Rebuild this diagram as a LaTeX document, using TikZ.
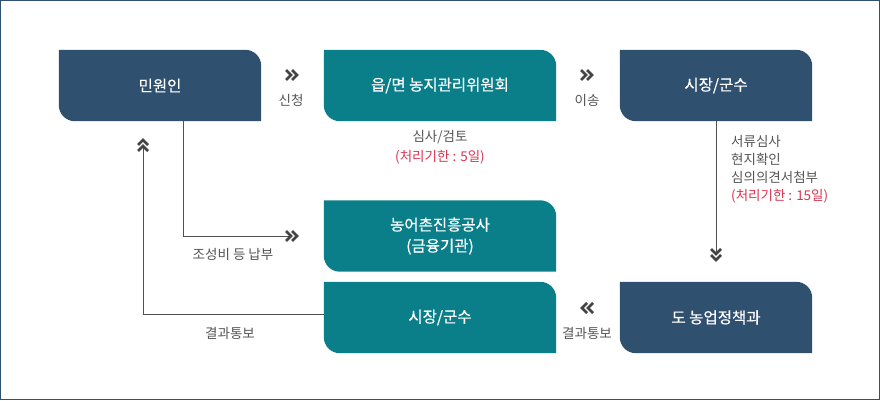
\documentclass[tikz,border=0pt]{standalone}
\usepackage{fontspec}
\setmainfont{Noto Sans CJK KR}
\newfontfamily\boxfont[FakeBold=0.6]{Noto Sans CJK KR}
\usetikzlibrary{backgrounds}
\definecolor{boxblue}{HTML}{305070}
\definecolor{boxteal}{HTML}{0A7F8A}
\definecolor{labgray}{HTML}{555555}
\definecolor{labred}{HTML}{DB3451}
\definecolor{linegray}{HTML}{505050}
\definecolor{chevgray}{HTML}{444444}
\newcommand\shapebox[2]{%
  \fill[#2] (#1.north west) -- ([xshift=-16pt]#1.north east)
    arc[start angle=90,end angle=0,radius=16pt] -- (#1.south east)
    -- ([xshift=16pt]#1.south west)
    arc[start angle=270,end angle=180,radius=16pt] -- cycle;}
\tikzset{
  box/.style={minimum height=71pt, inner sep=0pt, text=white,
    font=\boxfont\fontsize{15.5}{21}\selectfont, align=center},
  lab/.style={text=labgray, font=\fontsize{13.5}{18}\selectfont, inner sep=0pt},
  redlab/.style={text=labred, font=\fontsize{13.5}{18}\selectfont, inner sep=0pt},
  conn/.style={draw=linegray, line width=1pt},
  chevline/.style={draw=chevgray, line width=2.6pt, miter limit=10},
  dchev/.pic={
    \draw[chevline] (-6,5) -- (-1,0) -- (-6,-5);
    \draw[chevline] (0,5) -- (5,0) -- (0,-5);
  }
}
\begin{document}
\begin{tikzpicture}[x=1pt,y=1pt]
\useasboundingbox (0,0) rectangle (880,400);
\draw[boxblue, line width=1pt] (0.5,0.5) rectangle (879.5,399.5);

\node[box, minimum width=202pt] (n1) at (160,314.5) {민원인};
\node[box, minimum width=232pt] (n2) at (440,314.5) {읍/면 농지관리위원회};
\node[box, minimum width=192pt] (n3) at (716,314.5) {시장/군수};
\node[box, minimum width=232pt] (n4) at (440,164) {농어촌진흥공사\\(금융기관)};
\node[box, minimum width=232pt] (n5) at (440,82.5) {시장/군수};
\node[box, minimum width=192pt] (n6) at (716,82.5) {도 농업정책과};

\begin{pgfonlayer}{background}
\shapebox{n1}{boxblue}
\shapebox{n2}{boxteal}
\shapebox{n3}{boxblue}
\shapebox{n4}{boxteal}
\shapebox{n5}{boxteal}
\shapebox{n6}{boxblue}
\end{pgfonlayer}

% labels
\node[lab] (l1) at (291,300) {신청};
\node[lab] (l2) at (587,300) {이송};
\node[lab] (l3) at (440,263) {심사/검토};
\node[redlab] (l4) at (440,243) {(처리기한 : 5일)};
\node[lab, anchor=north west, align=left] (l5) at (731,265)
  {서류심사\\현지확인\\심의의견서첨부\\\textcolor{labred}{(처리기한 : 15일)}};
\node[lab] (l6) at (233,146) {조성비 등 납부};
\node[lab] (l7) at (230,67) {결과통보};
\node[lab] (l8) at (587,67) {결과통보};

% chevrons between boxes
\coordinate (c12) at (292,325);
\coordinate (c23) at (587,325);
\coordinate (c65) at (587,92);
\pic at (c12) {dchev};
\pic at (c23) {dchev};
\pic[rotate=180] at (c65) {dchev};

% connectors
\coordinate (a1) at (183,164);
\coordinate (a2) at (290,164);
\draw[conn] ([xshift=23pt]n1.south) -- (a1) -- (a2);
\pic at (292,164) {dchev};

\coordinate (b1) at (143,86);
\coordinate (b2) at (143,252);
\draw[conn] (n5.west |- b1) -- (b1) -- (b2);
\pic[rotate=90] at (143,255) {dchev};

\coordinate (d1) at (716,148);
\draw[conn] (n3.south) -- (d1);
\pic[rotate=-90] at (716,145) {dchev};
\end{tikzpicture}
\end{document}
